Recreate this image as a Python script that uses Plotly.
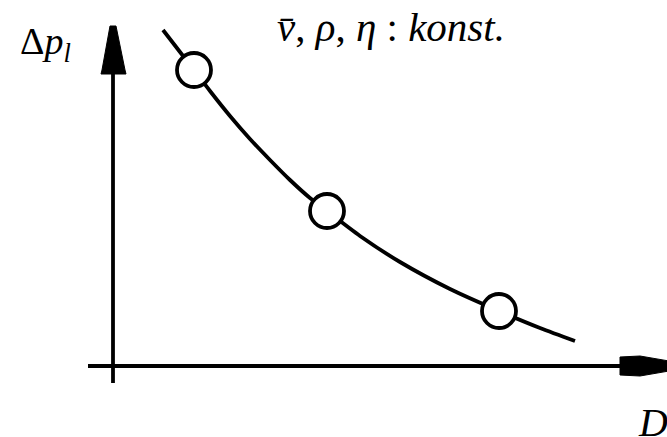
import plotly.graph_objects as go

# Schematic: pressure loss versus pipe diameter (arbitrary units, origin at the axis crossing)
curve_D = [50, 67, 81, 97, 117, 137, 157, 177, 197, 214, 247, 287, 337, 386, 427, 462]
curve_dp = [336, 314, 296, 275, 250, 227, 206, 186, 168, 155, 130, 104, 77, 55, 38, 25]

points_D = [81, 214, 386]
points_dp = [296, 155, 55]

# Pixel-aligned ranges: 667 x 437 canvas, axes crossing at (113, 366)
X0, Y0 = 113, 366
W, H = 667, 437

fig = go.Figure()

fig.add_trace(go.Scatter(
    x=curve_D, y=curve_dp, mode="lines",
    line=dict(color="black", width=3.8, shape="spline", smoothing=0.8),
    hoverinfo="skip", showlegend=False,
))
fig.add_trace(go.Scatter(
    x=points_D, y=points_dp, mode="markers",
    marker=dict(symbol="circle", size=34, color="white",
                line=dict(color="black", width=3.8)),
    showlegend=False,
))

shapes = [
    # vertical axis
    dict(type="line", x0=0, x1=0, y0=-17, y1=300, line=dict(color="black", width=3.8)),
    # horizontal axis
    dict(type="line", x0=-25, x1=520, y0=0, y1=0, line=dict(color="black", width=3.8)),
    # vertical arrowhead
    dict(type="path",
         path=f"M -3,{Y0-26} L 3,{Y0-26} L 12,{Y0-70} L 13,{Y0-74} L -12,{Y0-74} L -11,{Y0-70} Z",
         fillcolor="black", line=dict(color="black", width=1)),
    # horizontal arrowhead
    dict(type="path",
         path=f"M {620-X0},-9 L {640-X0},-10 L {W-X0+2},-5 L {W-X0+2},5 L {640-X0},10 L {620-X0},9 Z",
         fillcolor="black", line=dict(color="black", width=1)),
]

serif = "Liberation Serif"
annotations = [
    dict(x=18 - X0, y=Y0 - 70, xref="x", yref="y", xanchor="left", yanchor="bottom",
         text="Δ<i>p</i><sub><i>l</i></sub>", showarrow=False,
         font=dict(family=serif, size=38, color="black")),
    dict(x=275 - X0, y=Y0 - 52, xref="x", yref="y", xanchor="left", yanchor="bottom",
         text="<i>v\u0304</i>, <i>ρ</i>, <i>η</i> : <i>konst.</i>", showarrow=False,
         font=dict(family=serif, size=41, color="black")),
    dict(x=636 - X0, y=0, xref="x", yref="paper", xanchor="left", yanchor="bottom",
         yshift=-10, text="<i>D</i>", showarrow=False,
         font=dict(family=serif, size=40, color="black")),
]

fig.update_layout(
    width=W, height=H,
    font=dict(family=serif, color="black"),
    margin=dict(l=0, r=0, t=0, b=0),
    paper_bgcolor="white", plot_bgcolor="white",
    xaxis=dict(range=[-X0, W - X0], visible=False, fixedrange=True),
    yaxis=dict(range=[Y0 - H, Y0], visible=False, fixedrange=True),
    shapes=shapes, annotations=annotations,
    showlegend=False,
)

fig.write_html("out.html")
